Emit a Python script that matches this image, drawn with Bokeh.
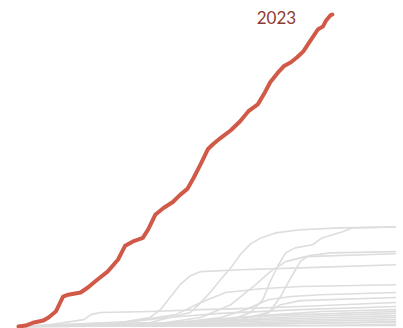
from bokeh.plotting import figure
from bokeh.models import Range1d
from bokeh.embed import file_html
from bokeh.resources import INLINE
from bokeh.core.properties import value

# Highlighted year (day of year, cumulative value)
year_label = "2023"
red_days = [1, 8, 16, 25, 30, 37, 44, 49, 61, 68, 77, 87, 97, 104, 111, 121, 126, 133, 141,
            150, 157, 164, 170, 177, 184, 189, 196, 206, 215, 223, 232, 239, 244, 251, 257,
            264, 270, 276, 283, 290, 295, 298, 302, 304]
red_vals = [0, 0.3, 1.3, 1.9, 2.9, 4.8, 9.6, 10.2, 10.9, 12.5, 15.0, 17.6, 21.4, 25.9, 27.2,
            28.4, 31.0, 35.8, 38.0, 39.9, 42.2, 44.1, 47.6, 52.1, 56.9, 58.5, 60.4, 62.9,
            65.8, 69.0, 71.2, 75.1, 78.3, 81.2, 83.4, 84.7, 86.3, 88.2, 91.7, 95.2, 96.2,
            98.1, 99.7, 100.0]

# Other years (grey)
grey_days = [
    [1, 128, 167, 175, 186, 196, 206, 215, 225, 235, 249, 273, 312, 365],
    [1, 128, 206, 225, 237, 244, 252, 259, 268, 285, 294, 314, 323, 365],
    [1, 99, 128, 138, 148, 157, 167, 177, 215, 273, 365],
    [1, 177, 230, 244, 254, 264, 273, 281, 302, 365],
    [1, 138, 177, 206, 230, 244, 259, 278, 365],
    [1, 109, 153, 177, 201, 235, 273, 365],
    [1, 157, 196, 220, 242, 264, 293, 365],
    [1, 177, 215, 239, 254, 273, 365],
    [1, 32, 64, 71, 80, 128, 177, 225, 273, 365],
    [1, 48, 112, 145, 196, 273, 365],
    [1, 128, 186, 235, 293, 365],
    [1, 157, 215, 273, 365],
    [1, 80, 177, 273, 365],
    [1, 196, 235, 302, 365],
    [1, 128, 225, 365],
    [1, 177, 273, 365],
    [1, 225, 365],
    [1, 99, 244, 365],
    [1, 273, 365],
    [1, 365],
]
grey_vals = [
    [0, 1.3, 4.5, 7.0, 10.9, 15.0, 18.8, 23.0, 26.5, 28.4, 30.0, 31.0, 31.6, 31.9],
    [0, 0.6, 2.2, 4.5, 8.6, 14.4, 19.8, 23.6, 25.2, 26.2, 28.4, 30.4, 31.6, 31.9],
    [0, 1.3, 2.9, 5.4, 9.6, 13.4, 16.3, 17.6, 18.2, 18.8, 19.8],
    [0, 1.3, 2.2, 4.8, 9.6, 15.7, 20.8, 22.7, 23.6, 24.0],
    [0, 1.0, 2.9, 7.0, 13.4, 17.6, 20.8, 22.4, 23.3],
    [0, 1.6, 3.8, 7.7, 10.9, 12.1, 12.8, 13.4],
    [0, 1.3, 2.9, 5.4, 8.6, 9.6, 10.2, 10.9],
    [0, 1.0, 2.2, 4.2, 7.0, 8.3, 9.3],
    [0, 0.6, 2.2, 3.8, 4.5, 4.8, 5.4, 5.8, 6.4, 7.7],
    [0, 0, 1.6, 2.9, 4.2, 5.4, 6.4],
    [0, 0.6, 2.2, 3.5, 4.8, 5.4],
    [0, 0.6, 2.9, 3.8, 4.8],
    [0, 0.3, 1.6, 3.2, 4.2],
    [0, 1.0, 2.2, 2.9, 3.5],
    [0, 0.3, 1.6, 2.9],
    [0, 0.6, 1.6, 2.2],
    [0, 0.6, 1.6],
    [0, 0.3, 1.0, 1.3],
    [0, 0.3, 0.6],
    [0, 0.3],
]

p = figure(width=403, height=328, output_backend="svg", toolbar_location=None,
           x_axis_location=None, y_axis_location=None, min_border=0,
           x_range=Range1d(-16.38, 372.7), y_range=Range1d(-0.64, 104.49))
p.grid.visible = False
p.outline_line_color = None
p.background_fill_color = "white"
p.border_fill_color = "white"

for d, v in zip(grey_days, grey_vals):
    p.line(d, v, line_color="#dddddd", line_width=1.6, line_join="round", line_cap="round")

p.line(red_days, red_vals, line_color="#d05a47", line_width=4, line_join="round", line_cap="round")

p.text(x=[231], y=[98.9], text=[year_label], text_font=value("Lato"), text_font_size="17px",
       text_color="#8e3b30", text_align="left", text_baseline="middle")

open("out.html", "w").write(file_html(p, INLINE))
